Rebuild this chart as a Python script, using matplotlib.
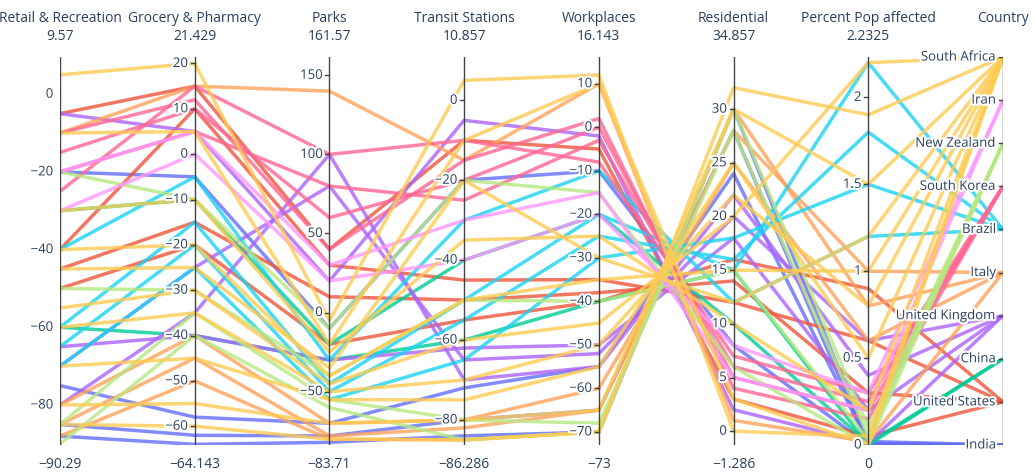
import matplotlib.pyplot as plt
import matplotlib.patheffects as pe

plt.rcParams['font.family'] = ['Open Sans', 'DejaVu Sans']

dims = ["Retail & Recreation", "Grocery & Pharmacy", "Parks", "Transit Stations",
        "Workplaces", "Residential", "Percent Pop affected", "Country"]
lo = [-90.29, -64.143, -83.71, -86.286, -73, -1.286, 0]
hi = [9.57, 21.429, 161.57, 10.857, 16.143, 34.857, 2.2325]
countries = ["India", "United States", "China", "United Kingdom", "Italy",
             "Brazil", "South Korea", "New Zealand", "Iran", "South Africa"]
colors = ["#636efa", "#EF553B", "#00cc96", "#ab63fa", "#FFA15A",
          "#19d3f3", "#FF6692", "#B6E880", "#FF97FF", "#FECB52"]

# rows: retail, grocery, parks, transit, work, residential, pop %
india = [[-85, -62, -78, -80, -65, 28, 0.0], [-75, -58, -70, -72, -55, 24, 0.01],
         [-20, -5, -10, -20, -10, 8, 0.0], [-88, -64, -82, -84, -70, 30, 0.02]]
usa = [[-45, -15, 10, -50, -38, 14, 0.3], [-40, 10, 30, -45, -35, 12, 0.6],
       [-5, 15, 40, -10, -5, 3, 0.05], [-50, -20, -20, -55, -40, 16, 0.9]]
china = [[-60, -40, -30, -60, -40, 15, 0.0], [-30, -10, -20, -40, -20, 10, 0.01]]
uk = [[-80, -35, 100, -70, -55, 22, 0.4], [-70, -25, 80, -65, -52, 20, 0.6],
      [-65, -40, -30, -62, -50, 18, 0.2], [-5, 5, 20, -5, -2, 2, 0.01]]
italy = [[-88, -50, -80, -85, -70, 30, 0.8], [-85, -45, -78, -82, -65, 28, 1.0],
         [-80, -40, -70, -80, -60, 25, 0.6], [-10, 15, 140, -15, 10, 1, 0.02]]
brazil = [[-65, -20, -50, -55, -25, 16, 1.8], [-60, -15, -45, -50, -20, 15, 2.2],
          [-70, -25, -55, -65, -30, 18, 1.5], [-40, -5, -30, -30, -10, 12, 1.2]]
korea = [[-15, 10, 60, -20, 0, 5, 0.2], [-20, 5, 80, -25, -3, 6, 0.25],
         [-10, 12, 40, -15, 2, 4, 0.15], [-25, 15, 100, -10, -8, 7, 0.3]]
nz = [[-90, -40, -60, -85, -70, 30, 0.1], [-85, -35, -55, -80, -68, 28, 0.05],
      [-20, -10, -10, -20, -15, 6, 0.0], [-50, -30, -40, -50, -40, 15, 0.03]]
iran = [[-20, 5, 30, -30, -15, 5, 0.2], [-30, 0, 20, -40, -20, 8, 0.3]]
s_africa = [[-70, -45, -55, -75, -55, 25, 0.5], [-40, -20, -40, -50, -35, 15, 1.0],
            [-10, 5, -20, -10, 10, 3, 0.0], [-80, -55, -70, -80, -65, 30, 1.5],
            [-55, -30, -45, -60, -45, 20, 2.2], [-30, -10, -25, -35, -25, 10, 0.2],
            [5, 20, -5, 5, 12, 0, 0.05], [-60, -35, -50, -70, -50, 22, 0.8],
            [-45, -25, -35, -20, -30, 12, 1.2], [-85, -60, -80, -85, -70, 32, 1.9]]
rows = [india, usa, china, uk, italy, brazil, korea, nz, iran, s_africa]

ticks = [[0, -20, -40, -60, -80], [20, 10, 0, -10, -20, -30, -40, -50, -60],
         [150, 100, 50, 0, -50], [0, -20, -40, -60, -80],
         [10, 0, -10, -20, -30, -40, -50, -60, -70], [30, 25, 20, 15, 10, 5, 0],
         [2, 1.5, 1, 0.5, 0]]
low_lbl = ["−90.29", "−64.143", "−83.71", "−86.286", "−73", "−1.286", "0"]
high_lbl = ["9.57", "21.429", "161.57", "10.857", "16.143", "34.857", "2.2325"]

fig = plt.figure(figsize=(10.35, 4.72), dpi=100)
ax = fig.add_axes([60 / 1035, 27 / 472, 943 / 1035, 388 / 472])
ax.set_xlim(0, 7)
ax.set_ylim(0, 1)
ax.axis('off')

tc = "#2a3f5f"
halo = [pe.withStroke(linewidth=3, foreground='white')]
for ci, data in enumerate(rows):
    for r in data:
        y = [(v - lo[k]) / (hi[k] - lo[k]) for k, v in enumerate(r)]
        y.append(ci / 9)
        ax.plot(range(8), y, color=colors[ci], lw=2.5, alpha=0.8, solid_capstyle='butt')

for k in range(8):
    ax.plot([k, k], [0, 1], color="#444", lw=1, zorder=5)
    ax.text(k, 1.1, dims[k], ha='center', va='center', fontsize=10, color=tc, clip_on=False)
    if k < 7:
        ax.text(k, 1.052, high_lbl[k], ha='center', va='center', fontsize=10, color=tc, clip_on=False)
        ax.text(k, -0.05, low_lbl[k], ha='center', va='center', fontsize=10, color=tc, clip_on=False)
        for t in ticks[k]:
            y = (t - lo[k]) / (hi[k] - lo[k])
            ax.plot([k - 0.03, k], [y, y], color="#444", lw=1, zorder=5)
            lab = ("%g" % t).replace("-", "−")
            ax.text(k - 0.05, y, lab, ha='right', va='center', fontsize=9.5, color=tc,
                    zorder=6, path_effects=halo)
    else:
        for ci, c in enumerate(countries):
            ax.plot([k - 0.03, k], [ci / 9, ci / 9], color="#444", lw=1, zorder=5)
            ax.text(k - 0.05, ci / 9, c, ha='right', va='center', fontsize=9.5, color=tc,
                    zorder=6, path_effects=halo)

fig.savefig("out.png", dpi=100)
